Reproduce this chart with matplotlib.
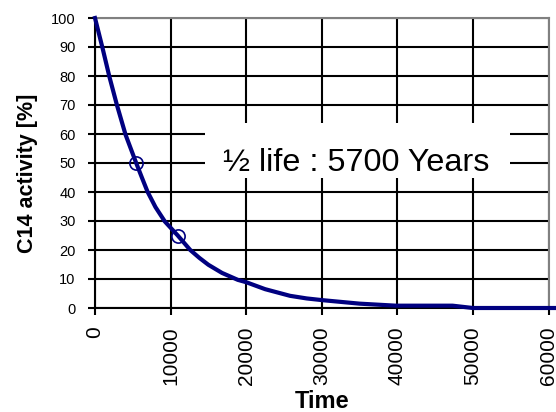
import matplotlib
matplotlib.use("Agg")
import matplotlib.pyplot as plt
from matplotlib.patches import Rectangle

plt.rcParams['font.family'] = ['Liberation Sans', 'DejaVu Sans']

# decay curve
time = [0, 1000, 1900, 2900, 4050, 4800, 5450, 6200, 6950, 8000, 9250,
        10950, 12600, 13800, 15000, 16800, 18900, 20000, 22500, 25800,
        28000, 30100, 35000, 39800, 47300, 50000, 62000]
activity = [100, 89.6, 79.8, 70, 59.7, 54.5, 50, 45, 40.1, 34.8, 29.8,
            25, 20, 17.3, 14.9, 12.1, 9.7, 8.9, 6.5, 4.2,
            3.3, 2.7, 1.5, 0.8, 0.8, 0, 0]

# half-life markers
mark_time = [5450, 10950]
mark_activity = [50, 25]

x_ticks = [0, 10000, 20000, 30000, 40000, 50000, 60000]
y_ticks = list(range(0, 101, 10))

fig = plt.figure(figsize=(5.56, 4.12), dpi=100)
ax = fig.add_axes([95 / 556, 1 - 308 / 412, 453.5 / 556, 290 / 412])

ax.set_xlim(0, 60000)
ax.set_ylim(0, 100)
ax.set_xticks(x_ticks)
ax.set_yticks(y_ticks)
ax.set_xticklabels([str(t) for t in x_ticks], rotation=90, fontsize=15)
ax.set_yticklabels([str(v) for v in y_ticks], fontsize=10.5)
ax.tick_params(axis='x', direction='out', length=5, width=1.5, pad=8)
ax.tick_params(axis='y', direction='out', length=5, width=1.5, pad=9)

ax.set_axisbelow(True)
ax.grid(True, color='black', linewidth=1.5)
for side in ['left', 'bottom']:
    ax.spines[side].set_color('black')
    ax.spines[side].set_linewidth(1.5)
for side in ['top', 'right']:
    ax.spines[side].set_color('#808080')
    ax.spines[side].set_linewidth(1.5)

ax.plot(time, activity, color='#000080', linewidth=3, clip_on=False,
        solid_joinstyle='round', zorder=4)
ax.plot(mark_time, mark_activity, linestyle='none', marker='o', markersize=9.5,
        markerfacecolor='none', markeredgecolor='#000080', markeredgewidth=1.2,
        zorder=5)

ax.add_patch(Rectangle((0.2426, 0.448), 0.6725, 0.19, transform=ax.transAxes,
                       facecolor='white', edgecolor='none', zorder=2))
ax.text(0.5755, 0.5, '½ life : 5700 Years', transform=ax.transAxes,
        ha='center', va='center', fontsize=23.3, zorder=3)

ax.set_ylabel('C14 activity [%]', fontsize=15.5, fontweight='bold')
ax.yaxis.set_label_coords(-0.126, 0.466)
fig.text(322 / 556, 1 - 408 / 412, 'Time', ha='center', va='baseline',
         fontsize=17, fontweight='bold')

fig.savefig('out.png', dpi=100)
